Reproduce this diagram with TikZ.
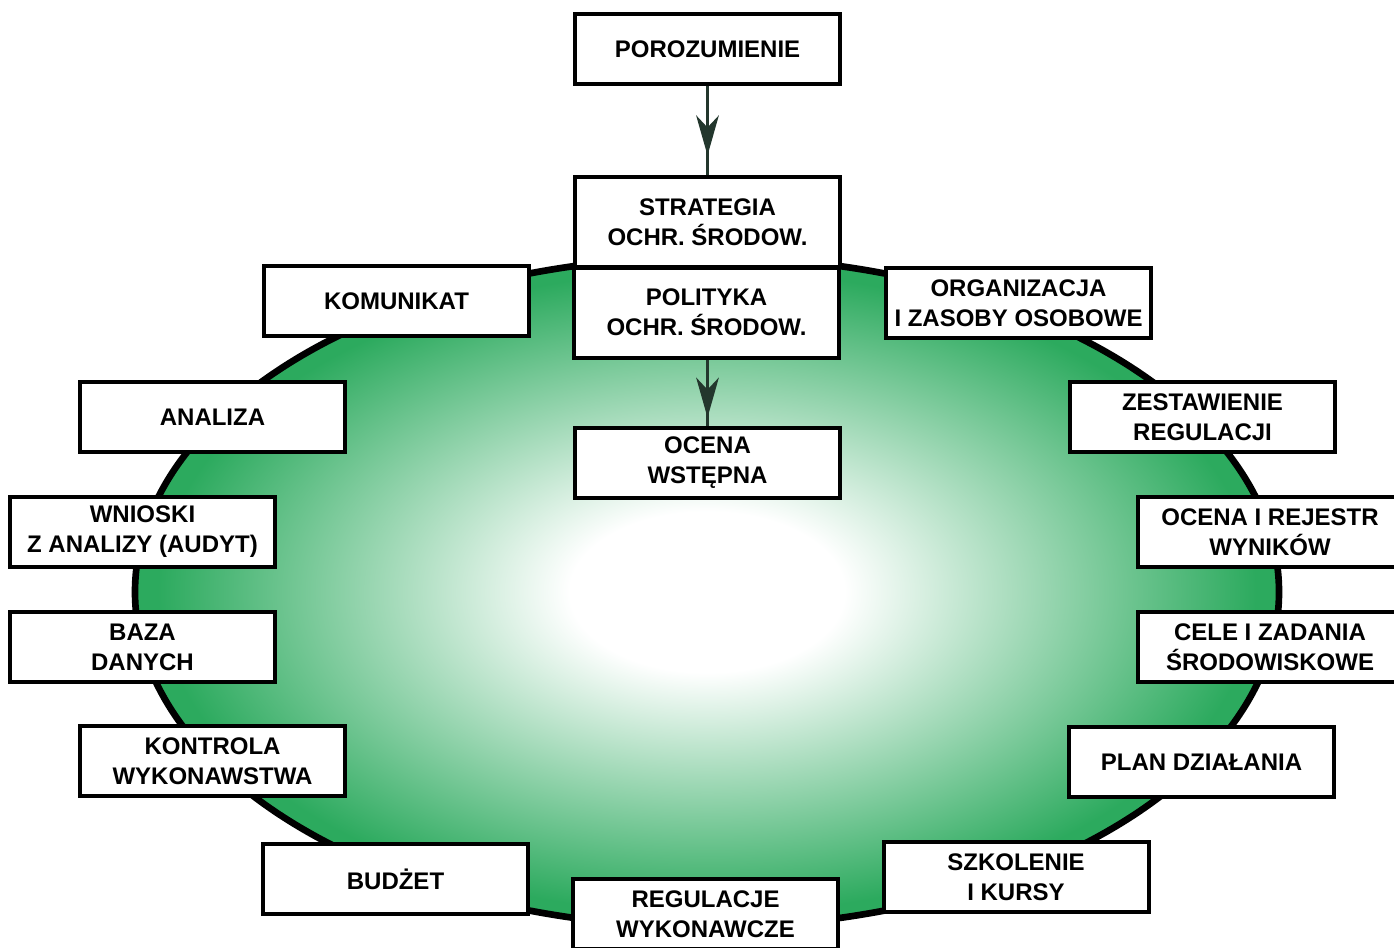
\documentclass[tikz,border=0pt]{standalone}
\usepackage{fontspec}
\setmainfont{Liberation Sans}
\usetikzlibrary{arrows.meta,decorations.markings}

\definecolor{fieldgreen}{RGB}{44,170,94}
\definecolor{arrowdark}{RGB}{35,55,45}
\pgfdeclareradialshading{fieldglow}{\pgfpoint{0bp}{0bp}}{%
  color(0bp)=(white); color(6bp)=(white); color(24bp)=(fieldgreen); color(50bp)=(fieldgreen)}

\tikzset{
  box/.style={draw, line width=3pt, fill=white, align=center, inner sep=0pt,
    minimum width=198.75pt, minimum height=52.5pt,
    font=\bfseries\fontsize{18}{22.5}\selectfont},
  tallbox/.style={box, minimum height=67.5pt},
  flow/.style={line width=2.2pt, draw=arrowdark, postaction={decorate},
    decoration={markings, mark=at position #1 with
      {\arrow[arrowdark]{Stealth[length=30pt, width=17pt, inset=9pt]}}}}
}

\begin{document}
\begin{tikzpicture}[x=0.75pt, y=-0.75pt]
\useasboundingbox (0,0) rectangle (1394,947);

% central field
\draw[line width=5pt, shading=fieldglow] (707,592) ellipse [x radius=429pt, y radius=251.25pt];

% top column
\node[box]     (poro)   at (707.5,49)   {POROZUMIENIE};
\node[tallbox] (strat)  at (707.5,222)  {STRATEGIA\\OCHR. ŚRODOW.};
\node[tallbox] (polit)  at (706.5,312.5){POLITYKA\\OCHR. ŚRODOW.};
\node[box]     (ocena)  at (707.5,462.5){OCENA\\WSTĘPNA};

% left side
\node[box] (komun)  at (396.5,301) {KOMUNIKAT};
\node[box] (anal)   at (212.5,417) {ANALIZA};
\node[box] (wnio)   at (142.5,532) {WNIOSKI\\Z ANALIZY (AUDYT)};
\node[box] (baza)   at (142.5,647) {BAZA\\DANYCH};
\node[box] (kontr)  at (212.5,761) {KONTROLA\\WYKONAWSTWA};
\node[box] (budzet) at (395.5,879) {BUDŻET};

% right side
\node[box] (organ)  at (1018.5,303) {ORGANIZACJA\\I ZASOBY OSOBOWE};
\node[box] (zest)   at (1202.5,417) {ZESTAWIENIE\\REGULACJI};
\node[box] (rejestr)at (1270,532)   {OCENA I REJESTR\\WYNIKÓW};
\node[box] (cele)   at (1270,647)   {CELE I ZADANIA\\ŚRODOWISKOWE};
\node[box] (plan)   at (1201.5,762) {PLAN DZIAŁANIA};
\node[box] (szkol)  at (1016,877)   {SZKOLENIE\\I KURSY};

% bottom
\node[box] (regul)  at (705.5,914) {REGULACJE\\WYKONAWCZE};

% connectors
\draw[flow=0.78] (poro) -- (strat);
\draw[flow=0.88] (polit.south -| ocena.north) -- (ocena);
\end{tikzpicture}
\end{document}
